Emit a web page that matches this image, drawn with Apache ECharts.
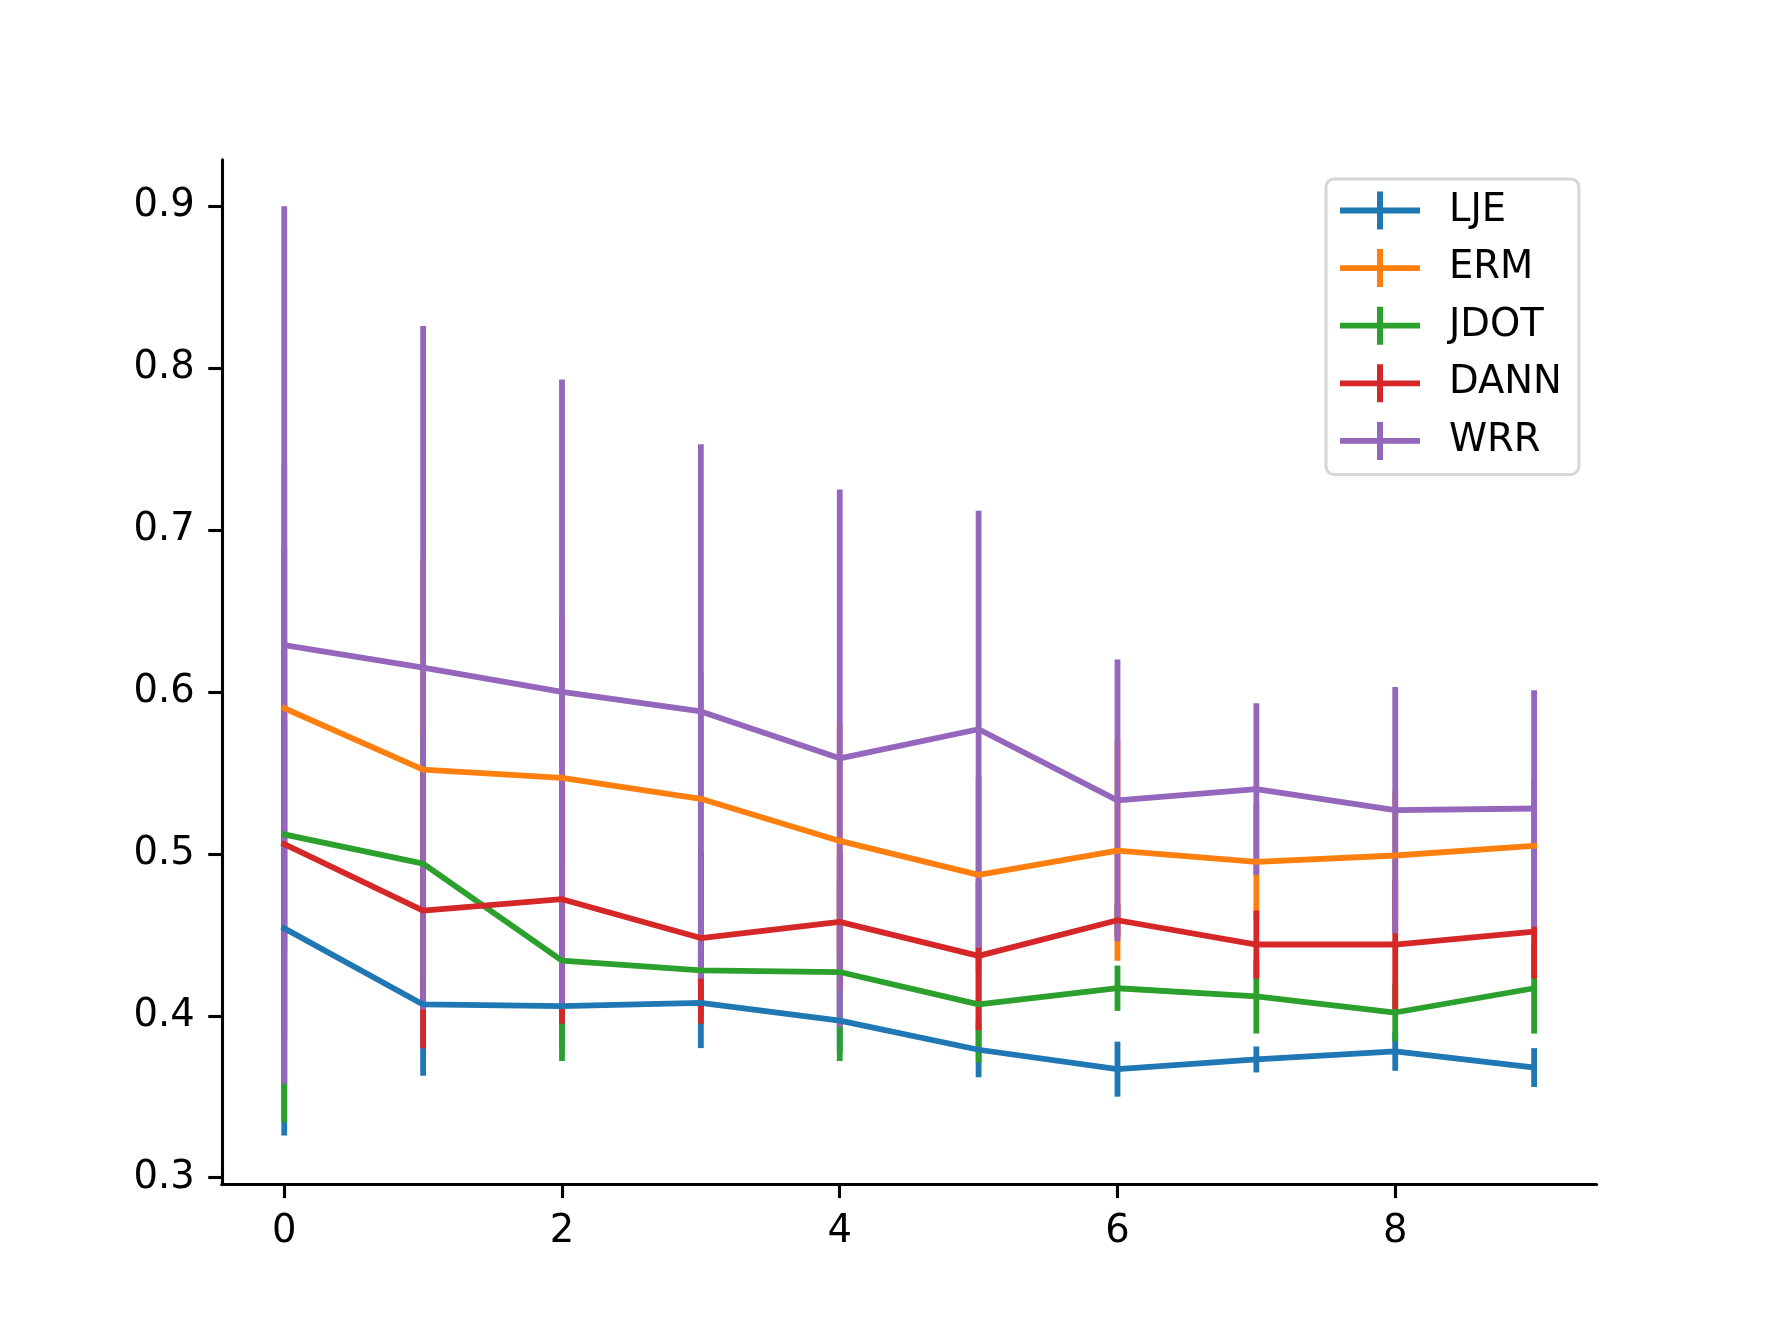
<!DOCTYPE html>
<html>
<head>
<meta charset="utf-8">
<script src="https://cdn.jsdelivr.net/npm/echarts@6/dist/echarts.min.js"></script>
<style>
html,body{margin:0;padding:0;background:#fff;}
#chart{width:1774px;height:1331px;}
</style>
</head>
<body>
<div id="chart"></div>
<script>
// ---- data ----
const xValues = [0, 1, 2, 3, 4, 5, 6, 7, 8, 9];
const seriesNames = ['LJE', 'ERM', 'JDOT', 'DANN', 'WRR'];
const lje     = [0.454, 0.407, 0.406, 0.408, 0.397, 0.379, 0.367, 0.373, 0.378, 0.368];
const ljeErr  = [0.128, 0.044, 0.025, 0.028, 0.020, 0.017, 0.017, 0.008, 0.012, 0.012];
const erm     = [0.590, 0.552, 0.547, 0.534, 0.508, 0.487, 0.502, 0.495, 0.499, 0.505];
const ermErr  = [0.150, 0.130, 0.100, 0.078, 0.071, 0.060, 0.068, 0.035, 0.040, 0.040];
const jdot    = [0.512, 0.494, 0.434, 0.428, 0.427, 0.407, 0.417, 0.412, 0.402, 0.417];
const jdotErr = [0.178, 0.080, 0.062, 0.025, 0.055, 0.036, 0.014, 0.023, 0.018, 0.028];
const dann    = [0.506, 0.465, 0.472, 0.448, 0.458, 0.437, 0.459, 0.444, 0.444, 0.452];
const dannErr = [0.120, 0.085, 0.077, 0.053, 0.042, 0.046, 0.010, 0.021, 0.040, 0.029];
const wrr     = [0.629, 0.615, 0.600, 0.588, 0.559, 0.577, 0.533, 0.540, 0.527, 0.528];
const wrrErr  = [0.271, 0.211, 0.193, 0.165, 0.166, 0.135, 0.087, 0.053, 0.076, 0.073];
const yTicks = [0.3, 0.4, 0.5, 0.6, 0.7, 0.8, 0.9];
const xTicks = [0, 2, 4, 6, 8];

const means = [lje, erm, jdot, dann, wrr];
const errs = [ljeErr, ermErr, jdotErr, dannErr, wrrErr];
const colors = ['#1f77b4', '#ff7f0e', '#2ca02c', '#d62728', '#9467bd'];
const LW = 5.8;
const FONT = 'DejaVu Sans';

const chart = echarts.init(document.getElementById('chart'), null, {renderer: 'canvas'});

const series = [];
// error bars (drawn below all data lines, in series order)
seriesNames.forEach((name, i) => {
  series.push({
    name: name + ' err',
    type: 'custom',
    z: 2,
    data: xValues.map((x, k) => [x, means[i][k], errs[i][k]]),
    renderItem: (params, api) => {
      const x = api.value(0), y = api.value(1), e = api.value(2);
      const p1 = api.coord([x, y - e]);
      const p2 = api.coord([x, y + e]);
      return {
        type: 'line',
        z2: i,
        shape: {x1: p1[0], y1: p1[1], x2: p2[0], y2: p2[1]},
        style: {stroke: colors[i], lineWidth: LW, lineCap: 'butt'}
      };
    },
    silent: true
  });
});
// data lines
seriesNames.forEach((name, i) => {
  series.push({
    name: name,
    type: 'line',
    z: 3 + i,
    data: xValues.map((x, k) => [x, means[i][k]]),
    showSymbol: false,
    symbol: 'none',
    color: colors[i],
    lineStyle: {width: LW, color: colors[i], cap: 'square', join: 'round'},
    silent: true
  });
});

const legendIcon = 'path://M0,16.1 L37,16.1 L37,0 L43,0 L43,16.1 L80,16.1 L80,21.9 L43,21.9 L43,38 L37,38 L37,21.9 L0,21.9 Z';

chart.setOption({
  animation: false,
  backgroundColor: '#ffffff',
  grid: {left: 221.75, right: 177.4, top: 159.7, bottom: 146.4, containLabel: false},
  xAxis: {
    type: 'value',
    min: -0.45,
    max: 9.45,
    splitLine: {show: false},
    axisLine: {show: true, onZero: false, lineStyle: {color: '#000', width: 3.1}},
    axisTick: {show: true, length: 13.5, lineStyle: {color: '#000', width: 3.1}, customValues: xTicks},
    axisLabel: {customValues: xTicks, margin: 28, fontFamily: FONT, fontSize: 38.5, color: '#000',
      formatter: v => String(v)}
  },
  yAxis: {
    type: 'value',
    min: 0.2957,
    max: 0.9288,
    splitLine: {show: false},
    axisLine: {show: true, onZero: false, lineStyle: {color: '#000', width: 3.1}},
    axisTick: {show: true, length: 13.5, lineStyle: {color: '#000', width: 3.1}, customValues: yTicks},
    axisLabel: {customValues: yTicks, margin: 27, fontFamily: FONT, fontSize: 38.5, color: '#000',
      padding: [5, 0, 0, 0], formatter: v => v.toFixed(1)}
  },
  legend: {
    data: seriesNames,
    orient: 'vertical',
    left: 1326,
    top: 179,
    padding: [12, 17, 14, 14],
    itemGap: 18.6,
    itemWidth: 80,
    itemHeight: 38,
    icon: legendIcon,
    backgroundColor: '#ffffff',
    borderColor: '#d6d6d6',
    borderWidth: 3,
    borderRadius: 8,
    textStyle: {fontFamily: FONT, fontSize: 38.5, color: '#000', padding: [4, 0, 0, 24]},
    selectedMode: false
  },
  series: series
});
</script>
</body>
</html>
